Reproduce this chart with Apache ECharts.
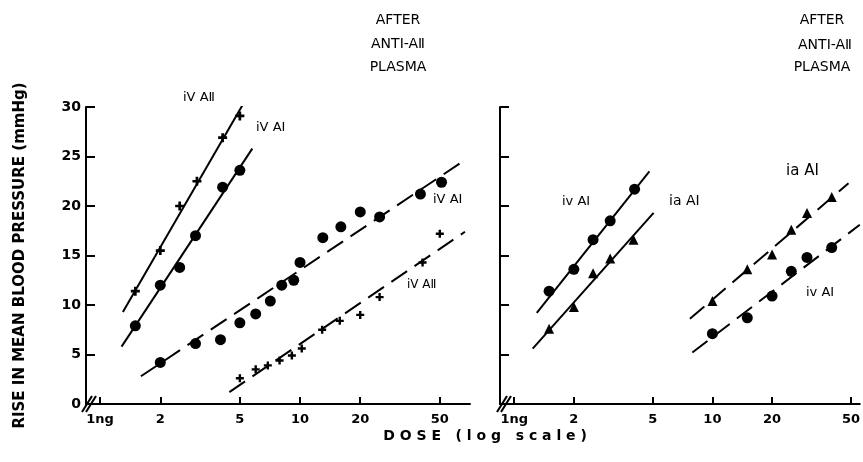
<!DOCTYPE html>
<html>
<head>
<meta charset="utf-8">
<script src="https://cdn.jsdelivr.net/npm/echarts@6/dist/echarts.min.js"></script>
<style>
  html, body { margin: 0; padding: 0; background: #fff; }
  #chart { width: 863px; height: 462px; }
</style>
</head>
<body>
<div id="chart"></div>
<script>
// dose ticks (ng, log scale)
var doseTicks = [1, 2, 5, 10, 20, 50]
var doseTickLabels = ['1ng', '2', '5', '10', '20', '50']

// left panel: control (solid lines)
var lIvA2Dose = [1.5, 2, 2.5, 3.05, 4.1, 5]
var lIvA2Rise = [11.4, 15.5, 20.0, 22.5, 26.9, 29.1]
var lIvA2Fit = [[1.30, 9.3], [5.62, 31.5]]

var lIvA1Dose = [1.5, 2, 2.5, 3, 4.1, 5]
var lIvA1Rise = [7.9, 12.0, 13.8, 17.0, 21.9, 23.6]
var lIvA1Fit = [[1.28, 5.8], [5.77, 25.8]]

// left panel: after anti-AII plasma (dashed lines)
var lAftA1Dose = [2, 3, 4, 5, 6, 7.1, 8.1, 9.3, 10, 13, 16, 20, 25, 40, 51]
var lAftA1Rise = [4.2, 6.1, 6.5, 8.2, 9.1, 10.4, 12.0, 12.5, 14.3, 16.8, 17.9, 19.4, 18.9, 21.2, 22.4]
var lAftA1Fit = [[1.6, 2.8], [63, 24.3]]

var lAftA2Dose = [5, 6, 6.9, 7.9, 9.1, 10.2, 12.9, 15.8, 20, 25, 41, 50]
var lAftA2Rise = [2.6, 3.5, 3.9, 4.4, 4.9, 5.6, 7.5, 8.4, 9.0, 10.8, 14.3, 17.2]
var lAftA2Fit = [[4.43, 1.2], [66.8, 17.4]]

// right panel: control (solid lines)
var rIvA1Dose = [1.5, 2, 2.5, 3.05, 4.05]
var rIvA1Rise = [11.4, 13.6, 16.6, 18.5, 21.7]
var rIvA1Fit = [[1.30, 9.2], [4.81, 23.5]]

var rIaA1Dose = [1.5, 2, 2.5, 3.05, 4]
var rIaA1Rise = [7.6, 9.8, 13.2, 14.7, 16.6]
var rIaA1Fit = [[1.24, 5.6], [5.05, 19.3]]

// right panel: after anti-AII plasma (dashed lines)
var rAftIaDose = [10, 15, 20, 25, 30, 40]
var rAftIaRise = [10.4, 13.6, 15.1, 17.6, 19.3, 20.9]
var rAftIaFit = [[7.7, 8.6], [48.6, 22.3]]

var rAftIvDose = [10, 15, 20, 25, 30, 40]
var rAftIvRise = [7.1, 8.7, 10.9, 13.4, 14.8, 15.8]
var rAftIvFit = [[7.92, 5.2], [55.4, 18.1]]

var FONT = 'DejaVu Sans'
var plusPath = 'path://M3.5,0h3v3.5h3.5v3h-3.5v3.5h-3v-3.5h-3.5v-3h3.5z'

function pairs(xs, ys) {
  return xs.map(function (x, i) { return [x, ys[i]] })
}

function dots(idx, xs, ys, symbol, size) {
  return {
    type: 'scatter',
    xAxisIndex: idx,
    yAxisIndex: idx,
    data: pairs(xs, ys),
    symbol: symbol,
    symbolSize: size,
    itemStyle: { color: '#000', opacity: 1 },
    z: 3
  }
}

function fit(idx, pts, dashed) {
  return {
    type: 'line',
    xAxisIndex: idx,
    yAxisIndex: idx,
    data: pts,
    symbol: 'none',
    lineStyle: { color: '#000', width: 2, type: dashed ? [19, 9] : 'solid' },
    z: 2
  }
}

function xAxis(idx, min, max) {
  return {
    type: 'log',
    gridIndex: idx,
    min: min,
    max: max,
    logBase: 10,
    axisLine: { lineStyle: { color: '#000', width: 2 } },
    axisTick: { inside: true, length: 7, lineStyle: { color: '#000', width: 2 }, customValues: doseTicks },
    axisLabel: {
      customValues: doseTicks,
      margin: 9,
      color: '#000',
      fontFamily: FONT,
      fontWeight: 'bold',
      fontSize: 13,
      formatter: function (v) {
        var i = doseTicks.indexOf(Math.round(v))
        return i >= 0 ? doseTickLabels[i] : ''
      }
    },
    splitLine: { show: false },
    minorTick: { show: false }
  }
}

function yAxis(idx, showLabels) {
  var a = {
    type: 'value',
    gridIndex: idx,
    min: 0,
    max: 30,
    interval: 5,
    axisLine: { show: true, lineStyle: { color: '#000', width: 2 } },
    axisTick: { show: true, inside: true, length: 9, lineStyle: { color: '#000', width: 2 } },
    axisLabel: { show: showLabels, color: '#000', fontFamily: FONT, fontWeight: 'bold', fontSize: 14, margin: 5 },
    splitLine: { show: false }
  }
  if (showLabels) {
    a.name = 'RISE IN MEAN BLOOD PRESSURE (mmHg)'
    a.nameLocation = 'middle'
    a.nameGap = 58
    a.nameTextStyle = { color: '#000', fontFamily: FONT, fontWeight: 'bold', fontSize: 15 }
  }
  return a
}

function txt(x, y, s, size, align, weight) {
  return {
    type: 'text',
    x: x,
    y: y,
    style: {
      text: s,
      fill: '#000',
      font: (weight || 'normal') + ' ' + size + 'px "' + FONT + '"',
      align: align || 'left',
      verticalAlign: 'middle'
    }
  }
}

function brk(x, y) {
  return [0, 4].map(function (d) {
    return {
      type: 'line',
      shape: { x1: x + d, y1: y + 8, x2: x + d + 10, y2: y - 8 },
      style: { stroke: '#000', lineWidth: 2 }
    }
  })
}

var chart = echarts.init(document.getElementById('chart'))

var option = {
  backgroundColor: '#fff',
  animation: false,
  grid: [
    { left: 86, right: 393, top: 107, bottom: 58 },
    { left: 500, right: 0, top: 107, bottom: 58 }
  ],
  xAxis: [xAxis(0, 0.85, 70.8), xAxis(1, 0.848, 55.4)],
  yAxis: [yAxis(0, true), yAxis(1, false)],
  series: [
    fit(0, lIvA2Fit, false),
    dots(0, lIvA2Dose, lIvA2Rise, plusPath, 9),
    fit(0, lIvA1Fit, false),
    dots(0, lIvA1Dose, lIvA1Rise, 'circle', 11),
    fit(0, lAftA1Fit, true),
    dots(0, lAftA1Dose, lAftA1Rise, 'circle', 11),
    fit(0, lAftA2Fit, true),
    dots(0, lAftA2Dose, lAftA2Rise, plusPath, 8),
    fit(1, rIvA1Fit, false),
    dots(1, rIvA1Dose, rIvA1Rise, 'circle', 11),
    fit(1, rIaA1Fit, false),
    dots(1, rIaA1Dose, rIaA1Rise, 'triangle', 10),
    fit(1, rAftIaFit, true),
    dots(1, rAftIaDose, rAftIaRise, 'triangle', 10),
    fit(1, rAftIvFit, true),
    dots(1, rAftIvDose, rAftIvRise, 'circle', 11)
  ],
  graphic: [
    txt(398, 20, 'AFTER', 14, 'center'),
    txt(398, 44, 'ANTI-AⅡ', 14, 'center'),
    txt(398, 67, 'PLASMA', 14, 'center'),
    txt(822, 20, 'AFTER', 14, 'center'),
    txt(825, 45, 'ANTI-AⅡ', 14, 'center'),
    txt(822, 67, 'PLASMA', 14, 'center'),
    txt(183, 98, 'iV AⅡ', 13),
    txt(256, 128, 'iV AⅠ', 13),
    txt(433, 200, 'iV AⅠ', 13),
    txt(407, 285, 'iV AⅡ', 12),
    txt(562, 202, 'iv AⅠ', 13),
    txt(669, 201, 'ia AⅠ', 14),
    txt(786, 171, 'ia AⅠ', 15),
    txt(806, 293, 'iv AⅠ', 13),
    txt(485, 436, 'D O S E   ( l o g   s c a l e )', 14, 'center', 'bold')
  ].concat(brk(82, 404), brk(497, 404))
}

chart.setOption(option)
</script>
</body>
</html>
